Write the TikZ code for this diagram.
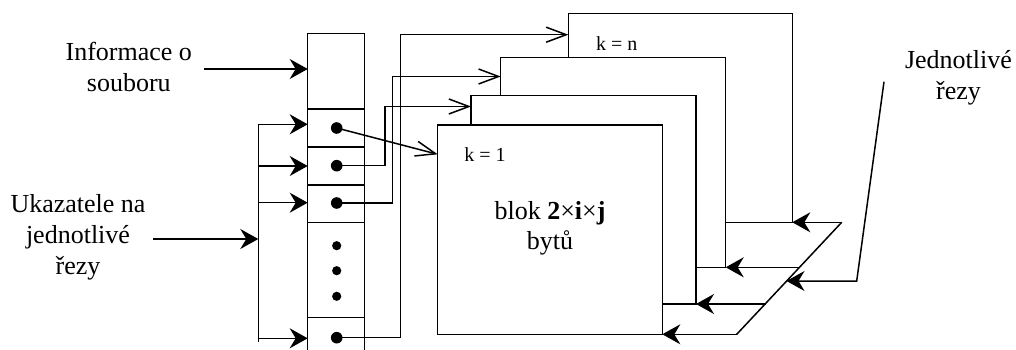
\documentclass[tikz,border=0pt]{standalone}
\usepackage{fontspec}
\setmainfont{Liberation Serif}
\usetikzlibrary{arrows.meta}
\begin{document}
\begin{tikzpicture}[x=1pt,y=-1pt,
  ln/.style={line width=1.5pt},
  farrow/.style={ln,-{Stealth[length=18pt,width=20pt,inset=6pt]}},
  oarrow/.style={ln,-{Straight Barb[length=20pt,width=15pt]}},
  slicebox/.style={ln,fill=white},
  biglabel/.style={align=center,font=\fontsize{26}{31}\selectfont},
  klabel/.style={font=\fontsize{20}{24}\selectfont},
  pdot/.style={fill=black},
]
\useasboundingbox (0,0) rectangle (1016,350);

% ---------- column ----------
\draw[ln] (307.7,350) -- (307.7,33.3) -- (364.7,33.3) -- (364.7,350);
\foreach \yy in {109,147,185,222.7,317.7}
  \draw[ln] (307.7,\yy) -- (364.7,\yy);

% named coordinates
\coordinate (infoIn) at (307.7,69);
\coordinate (busTop) at (258.3,124.3);
\coordinate (busBot) at (258.3,341.7);
\coordinate (busIn) at (258.3,239);
\coordinate (p1) at (307.7,124.3);
\coordinate (p2) at (307.7,166);
\coordinate (p3) at (307.7,202.7);
\coordinate (pn) at (307.7,338.3);

% dots
\fill[pdot] (336.7,128) circle (5.8) coordinate (d1);
\fill[pdot] (336.7,165.7) circle (5.8) coordinate (d2);
\fill[pdot] (336.7,203) circle (5.8) coordinate (d3);
\fill[pdot] (336.7,337.7) circle (5.8) coordinate (dn);
\fill[pdot] (336.7,245.7) circle (4.6) coordinate (e1);
\fill[pdot] (336.7,270.7) circle (4.6) coordinate (e2);
\fill[pdot] (336.7,296.3) circle (4.6) coordinate (e3);

% ---------- labels left ----------
\node[biglabel] (info) at (128.8,66.5) {Informace o\\souboru};
\node[biglabel] (ukaz) at (78,237) {Ukazatele na\\jednotlivé\\řezy};
\coordinate (infoStart) at (204,69);
\coordinate (ukazStart) at (153.3,239);
\draw[farrow] (infoStart) -- (infoIn);
\draw[farrow] (ukazStart) -- (busIn);

% bus
\draw[ln] (busTop) -- (busBot);
\draw[farrow] (busTop) -- (p1);
\draw[farrow] (258.3,166) -- (p2);
\draw[farrow] (258.3,202.7) -- (p3);
\draw[farrow] (258.3,338.3) -- (pn);

% ---------- slices (back to front) ----------
\draw[slicebox] (568.3,13.3) rectangle (792.3,222.3);
\draw[slicebox] (500.7,57.7) rectangle (725.7,267.3);
\draw[slicebox] (471,95.3) rectangle (696,304);
\draw[slicebox] (437.7,125) rectangle (662.3,334.3);
\node[klabel] (kn) at (616.7,43.3) {k = n};
\node[klabel] (k1) at (485,155) {k = 1};
\node[biglabel,align=center,font=\fontsize{26}{30}\selectfont] (blok) at (550,228)
  {blok \textbf{2}×\textbf{i}×\textbf{j}\\bytů};

\coordinate (s1in) at (437.7,154.3);
\coordinate (s2in) at (471,106.5);
\coordinate (s3in) at (500.7,76.5);
\coordinate (snin) at (568.3,34.7);

% pointers from column to slices
\draw[oarrow] (d1) -- (s1in);
\draw[oarrow] (d2) -- (385,165.7) |- (s2in);
\draw[oarrow] (d3) -- (392.7,203) |- (s3in);
\draw[oarrow] (dn) -- (400.7,337.7) |- (snin);

% ---------- plane on the right ----------
\coordinate (pTop) at (841.7,222.3);
\coordinate (pBot) at (736.7,334.3);
\coordinate (pA) at (799.5,267.3);
\coordinate (pB) at (765.5,304);
\coordinate (pC) at (786.5,281);
\draw[ln] (pTop) -- (pBot);
\coordinate (snout) at (792.3,222.3);
\coordinate (s3out) at (725.7,267.3);
\coordinate (s2out) at (696,304);
\coordinate (s1out) at (662.3,334.3);
\draw[farrow] (pTop) -- (snout);
\draw[farrow] (pA) -- (s3out);
\draw[farrow] (pB) -- (s2out);
\draw[farrow] (pBot) -- (s1out);

% ---------- right label ----------
\node[biglabel] (jedn) at (958.5,77.5) {Jednotlivé\\řezy};
\coordinate (jTop) at (884,81.7);
\coordinate (jBend) at (856.7,281);
\draw[farrow] (jTop) -- (jBend) -- (pC);
\end{tikzpicture}
\end{document}
